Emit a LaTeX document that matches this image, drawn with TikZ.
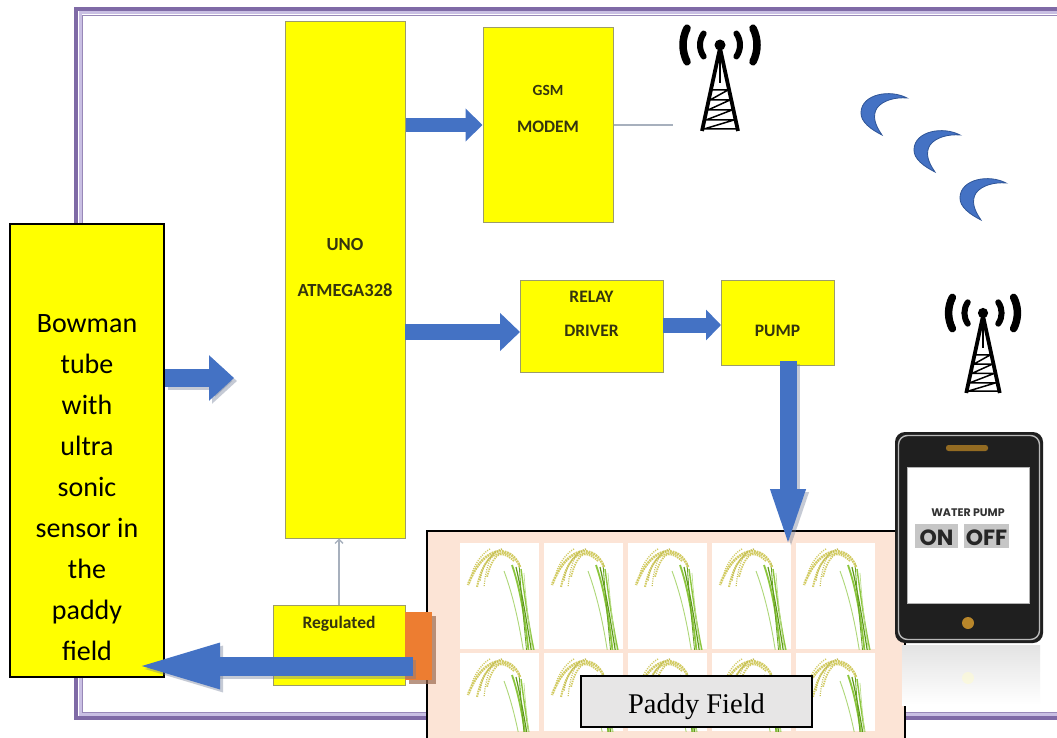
\documentclass[tikz,border=0pt]{standalone}
\usepackage{fontspec}
\setmainfont{Carlito}
\newfontfamily\timesfont{Liberation Serif}
\newfontfamily\phonefont{Poppins}
\usetikzlibrary{arrows.meta,calc}

\definecolor{boxyellow}{HTML}{FFFF00}
\definecolor{boxedge}{HTML}{9C9C6A}
\definecolor{labeltext}{HTML}{34340F}
\definecolor{flowblue}{HTML}{4472C4}
\definecolor{flowshade}{HTML}{6F7C96}
\definecolor{wiregray}{HTML}{A7B0BD}
\definecolor{framedark}{HTML}{7F6AA6}
\definecolor{framelight}{HTML}{C9BFE3}
\definecolor{fieldpeach}{HTML}{FCE4D6}
\definecolor{plateorange}{HTML}{ED7D31}
\definecolor{plateshade}{HTML}{9C6A50}
\definecolor{graincol}{HTML}{D2CB62}
\definecolor{leafgreen}{HTML}{8CC63E}
\definecolor{leafdark}{HTML}{5E9A1A}
\definecolor{moonedge}{HTML}{2F5597}
\definecolor{labelgray}{HTML}{E7E6E6}
\definecolor{buttongold}{HTML}{B8862A}

\tikzset{
  block/.style={draw=boxedge, line width=1pt, fill=boxyellow, inner sep=0pt},
  blocklabel/.style={text=labeltext, font=\bfseries\fontsize{17.5}{20}\selectfont, inner sep=0pt, anchor=base},
  flow/.style n args={3}{draw=flowblue, line width=#1, -{Triangle[length=#3, width=#2]}},
  flowshadow/.style n args={3}{draw=flowshade, opacity=0.4, line width=#1,
    -{Triangle[length=#3, width=#2]}, transform canvas={shift={(3pt,-3pt)}}},
  wire/.style={draw=wiregray, line width=1.3pt},
  tower/.pic={
    \fill (0,0) circle (5.5);
    \draw[line width=3.8, line join=round] (-18,86) -- (0,3) -- (18,86);
    \draw[line width=2] (0,3) -- (0,38);
    \draw[line width=1.5, line join=round]
      (-8,45) -- (8,45) -- (-10,55) -- (10,55) -- (-12,65) -- (12,65)
      -- (-14,75) -- (14,75) -- (-16,84) -- (16,84);
    \foreach \a in {0,180} {
      \draw[line width=6, line cap=round]
        (0,0) ++({\a+35}:20) arc[start angle={\a+35}, end angle={\a-35}, radius=20];
      \draw[line width=7.5, line cap=round]
        (0,0) ++({\a+27}:37) arc[start angle={\a+27}, end angle={\a-27}, radius=37];
    }
  },
  moon/.pic={
    \filldraw[fill=flowblue, draw=moonedge, line width=0.8]
      (47,6) .. controls (30,-3) and (2,2) .. (1,20)
      .. controls (0,30) and (12,38) .. (22,43)
      .. controls (15,33) and (12,24) .. (17,16)
      .. controls (23,8) and (36,5) .. (47,6) -- cycle;
  },
  ricetile/.pic={
    \begin{scope}
      \clip (0,0) rectangle (79,#1);
      \fill[white] (0,0) rectangle (79,#1);
      % stalk and leaves
      \draw[leafgreen!70!white, line width=0.9] (44,28) .. controls (54,55) and (60,85) .. (64,112);
      \draw[leafgreen, line width=1.8] (52,22) .. controls (60,45) and (65,75) .. (69,112);
      \draw[leafdark, line width=1.2] (56,24) .. controls (62,50) and (67,80) .. (72,112);
      \draw[leafgreen, line width=1.4] (61,26) .. controls (65,55) and (69,85) .. (75,112);
      \draw[leafdark!80!leafgreen, line width=0.8] (59,20) .. controls (61,50) and (64,80) .. (67,112);
      \draw[leafgreen!60!white, line width=0.7] (64,30) .. controls (66,60) and (70,90) .. (73,112);
      % drooping panicle
      \draw[graincol, line width=2.6, dash pattern=on 1.8 off 0.8] (60,24) .. controls (52,2) and (24,-1) .. (8,42);
      \draw[graincol, line width=2.0, dash pattern=on 1.5 off 0.9] (54,18) .. controls (40,4) and (24,10) .. (17,44);
      \draw[graincol, line width=1.8, dash pattern=on 1.4 off 1] (50,12) .. controls (40,6) and (32,14) .. (27,34);
      \draw[graincol!80!olive, line width=1.4, dash pattern=on 1.2 off 1.1] (42,6) .. controls (34,8) and (22,20) .. (20,38);
      \draw[graincol, line width=1.4, dash pattern=on 1.1 off 1.2] (30,6) .. controls (22,10) and (12,24) .. (11,36);
      \draw[graincol!85!olive, line width=1.2, dash pattern=on 1 off 1.3] (36,8) .. controls (30,14) and (26,24) .. (24,44);
    \end{scope}
  }
}

\begin{document}
\begin{tikzpicture}[x=1pt, y=-1pt]
  \useasboundingbox (0,0) rectangle (1057,738);
  \clip (0,0) rectangle (1057,738);
  \fill[white] (0,0) rectangle (1057,738);

  % double purple frame
  \draw[framedark, line width=4] (76,9.5) rectangle (1080,718);
  \draw[framelight, line width=3] (80,13) rectangle (1076,714.5);
  \draw[framedark!80, line width=0.8] (82.5,15.2) rectangle (1074,712.5);

  % controller and modules
  \node[block, minimum width=120, minimum height=516] (uno) at (345,280) {};
  \node[blocklabel, font=\bfseries\fontsize{18.5}{20}\selectfont] (unoA) at (345,251) {UNO};
  \node[blocklabel, font=\bfseries\fontsize{18.5}{20}\selectfont] (unoB) at (345,296) {ATMEGA328};

  \node[block, minimum width=130, minimum height=194] (gsm) at (548,125) {};
  \node[blocklabel, font=\bfseries\fontsize{15.5}{18}\selectfont] (gsmA) at (548,96) {GSM};
  \node[blocklabel] (gsmB) at (548,133) {MODEM};

  \node[block, minimum width=143, minimum height=92] (relay) at (591.5,326) {};
  \node[blocklabel] (relayA) at (591.5,302) {RELAY};
  \node[blocklabel] (relayB) at (591.5,336) {DRIVER};

  \node[block, minimum width=113, minimum height=85] (pump) at (777.5,322.5) {};
  \node[blocklabel] (pumpA) at (777.5,336) {PUMP};

  \node[block, minimum width=132, minimum height=80] (reg) at (339,645) {};
  \node[blocklabel] (regA) at (339,628) {Regulated};

  % sensor column
  \node[draw=black, line width=1.2pt, fill=boxyellow, minimum width=154, minimum height=453, inner sep=0pt] (bowman) at (87,450.5) {};
  \foreach \w [count=\i] in {Bowman, tube, with, ultra, sonic, sensor in, the, paddy, field}
    \node[anchor=base, inner sep=0pt, font=\fontsize{28}{30}\selectfont] (bw\i) at (87,291+41*\i) {\w};

  % GSM feed and towers
  \coordinate (feed) at (673,125);
  \draw[wire] (gsm.east) -- (feed);
  \pic at (720,45) {tower};
  \pic[scale=0.93] at (983,313) {tower};

  % radio waves
  \pic at (860,92) {moon};
  \pic at (913,129) {moon};
  \pic at (959,177) {moon};

  % supply line into controller
  \draw[wire, -{Straight Barb[length=4pt, width=8pt]}] (reg.north) -- (reg.north |- uno.south);

  % block arrows
  \draw[flow={14}{32}{17}] (uno.east |- gsm.west) -- (gsm.west);
  \coordinate (r1) at (405,332);
  \coordinate (r2) at (520,332);
  \draw[flow={16}{37}{20}] (r1) -- (r2);
  \coordinate (p1) at (663,325);
  \coordinate (p2) at (721,325);
  \draw[flow={15}{30}{15}] (p1) -- (p2);

  \coordinate (unoIn) at (234,378);
  \draw[flowshadow={18}{44}{25}] (bowman.east |- unoIn) -- (unoIn);
  \draw[flow={18}{44}{25}] (bowman.east |- unoIn) -- (unoIn);

  % paddy field panel
  \node[draw=black, line width=1.5pt, fill=fieldpeach, minimum width=478, minimum height=214, inner sep=0pt] (field) at (666,638) {};
  \foreach \tx in {460,544,628,712,796} {
    \pic at (\tx,543) {ricetile=106};
    \pic at (\tx,653) {ricetile=78};
  }
  \node[draw=black, line width=1.5pt, fill=labelgray, minimum width=231, minimum height=51, inner sep=0pt] (fieldlabel) at (696.5,701.5) {};
  \node[anchor=base, inner sep=0pt, font=\timesfont\fontsize{28.5}{30}\selectfont] (fieldtext) at (696.5,713) {Paddy Field};

  % pump outlet into the field
  \coordinate (pumpOut) at (788,361);
  \coordinate (fieldIn) at (788,551);
  \draw[flowshadow={17}{30}{62}] (pumpOut) -- (fieldIn);
  \draw[flow={17}{30}{62}] (pumpOut) -- (fieldIn);

  % drain plate and return arrow
  \fill[plateshade, opacity=0.7] (409,616) rectangle (436,684);
  \node[fill=plateorange, minimum width=27, minimum height=68, inner sep=0pt] (plate) at (418.5,646) {};
  \coordinate (drain) at (413,666);
  \coordinate (sensorIn) at (132,666);
  \draw[flowshadow={19}{40}{88}] (drain) -- (sensorIn);
  \draw[flow={19}{40}{88}] (drain) -- (sensorIn);

  % handset
  \shade[top color=gray!22, bottom color=white] (902,645) rectangle (1040,705);
  \fill[yellow!20, opacity=0.5] (968,678) circle (6);
  \node[fill=black!88, rounded corners=10, minimum width=148, minimum height=211, inner sep=0pt] (phone) at (969,537.5) {};
  \draw[gray!55, line width=1.4, rounded corners=9] (898.5,435.5) rectangle (1039.5,639.5);
  \node[fill=white, draw=gray!60, minimum width=122, minimum height=136, inner sep=0pt] (screen) at (968,535) {};
  \fill[buttongold!80!black, rounded corners=2.5] (946,445) rectangle (988,451);
  \fill[buttongold] (968,623) circle (6);
  \node[anchor=base, inner sep=0pt, text=black!80, font=\phonefont\bfseries\fontsize{11}{12}\selectfont] (pumpword) at (968,516.5) {WATER PUMP};
  \node[fill=gray!45, minimum width=43, minimum height=24, inner sep=0pt] (onkey) at (936.5,536) {};
  \node[fill=gray!45, minimum width=45, minimum height=24, inner sep=0pt] (offkey) at (986.5,536) {};
  \node[anchor=base, inner sep=0pt, text=black!85, font=\phonefont\bfseries\fontsize{22}{24}\selectfont] (ontext) at (936.5,545.5) {ON};
  \node[anchor=base, inner sep=0pt, text=black!85, font=\phonefont\bfseries\fontsize{22}{24}\selectfont] (offtext) at (986.5,545.5) {OFF};
\end{tikzpicture}
\end{document}
